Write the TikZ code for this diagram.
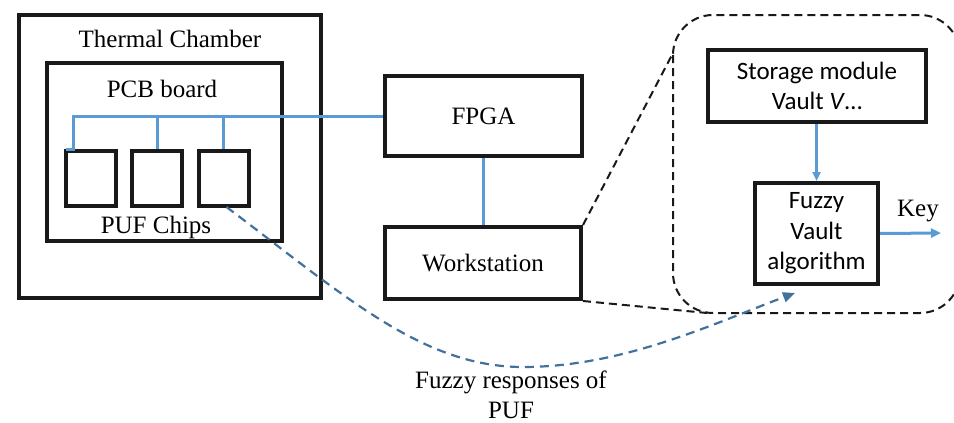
\documentclass[tikz,border=0pt]{standalone}
\usepackage{fontspec}
\setmainfont{Liberation Serif}
\newfontfamily\calib{Carlito}
\usetikzlibrary{arrows.meta}
\definecolor{busblue}{HTML}{5B9BD5}
\definecolor{curveblue}{HTML}{41719C}
\tikzset{
  box/.style={draw=black!90, line width=4pt, inner sep=0pt, align=center},
  bus/.style={draw=busblue, line width=3pt},
  zoomline/.style={draw=black!90, line width=2pt, dash pattern=on 8pt off 5pt},
  respcurve/.style={draw=curveblue, line width=2.2pt, dash pattern=on 9pt off 6pt},
  lbl/.style={inner sep=0pt, align=center}
}
\begin{document}
\begin{tikzpicture}[x=1pt, y=-1pt, font=\rmfamily\fontsize{25}{30}\selectfont]
\useasboundingbox (0,0) rectangle (954,423);
% left: chamber, board, chips
\node[box, minimum width=302pt, minimum height=283pt] (chamber) at (170,156.5) {};
\node[lbl] (chamberlbl) at (170,39) {Thermal Chamber};
\node[box, minimum width=235pt, minimum height=178pt] (pcb) at (164.5,152) {};
\node[lbl] (pcblbl) at (162,89) {PCB board};
\node[box, minimum width=50pt, minimum height=55pt] (c1) at (91,178.5) {};
\node[box, minimum width=50pt, minimum height=55pt] (c2) at (157,178.5) {};
\node[box, minimum width=50pt, minimum height=55pt] (c3) at (223.5,178.5) {};
\node[lbl] (chipslbl) at (156,227) {PUF Chips};
% middle
\node[box, minimum width=197pt, minimum height=80pt] (fpga) at (483.5,116) {FPGA};
\node[box, minimum width=196pt, minimum height=72pt] (ws) at (483,263) {\raisebox{-3pt}{Workstation}};
% bus
\draw[bus] ([xshift=2pt]c1.north west) -- ([xshift=9pt]c1.north west) |- (fpga.west);
\draw[bus] (c2.north) -- (c2.north |- fpga.west);
\draw[bus] (c3.north) -- (c3.north |- fpga.west);
\draw[bus] (fpga.south -| ws.north) -- (ws.north);
% zoomed region
\coordinate (vt) at (673,53);
\coordinate (vb) at (707,313);
\draw[zoomline, rounded corners=40pt] (673,15) rectangle (960,313);
\draw[zoomline] (ws.north east) -- (vt);
\draw[zoomline] (ws.south east) -- (vb);
\node[box, minimum width=218pt, minimum height=72pt, font=\calib\fontsize{25}{30}\selectfont] (store) at (817,86) {Storage module\\Vault \textit{V}…};
\node[box, minimum width=123pt, minimum height=101pt, font=\calib\fontsize{25}{30.5}\selectfont] (fv) at (816.5,233.5) {Fuzzy\\Vault\\algorithm};
\draw[bus, -{Triangle[length=9pt,width=8pt]}] (store.south -| fv.north) -- (fv.north);
\coordinate (keyend) at (941,233);
\draw[bus, -{Triangle[length=10pt,width=9pt]}] (fv.east) -- (keyend);
\node[lbl] (keylbl) at (918,211) {Key};
% fuzzy responses curve
\coordinate (curveend) at (795,293);
\draw[respcurve, -{Triangle[length=12pt,width=10pt]}] ([xshift=3pt,yshift=1pt]c3.south) .. controls (346,297) and (423,367) .. (523,367) .. controls (623,367) and (715,323) .. (curveend);
\node[lbl] (resplbl) at (511,395) {Fuzzy responses of\\PUF};
\end{tikzpicture}
\end{document}
